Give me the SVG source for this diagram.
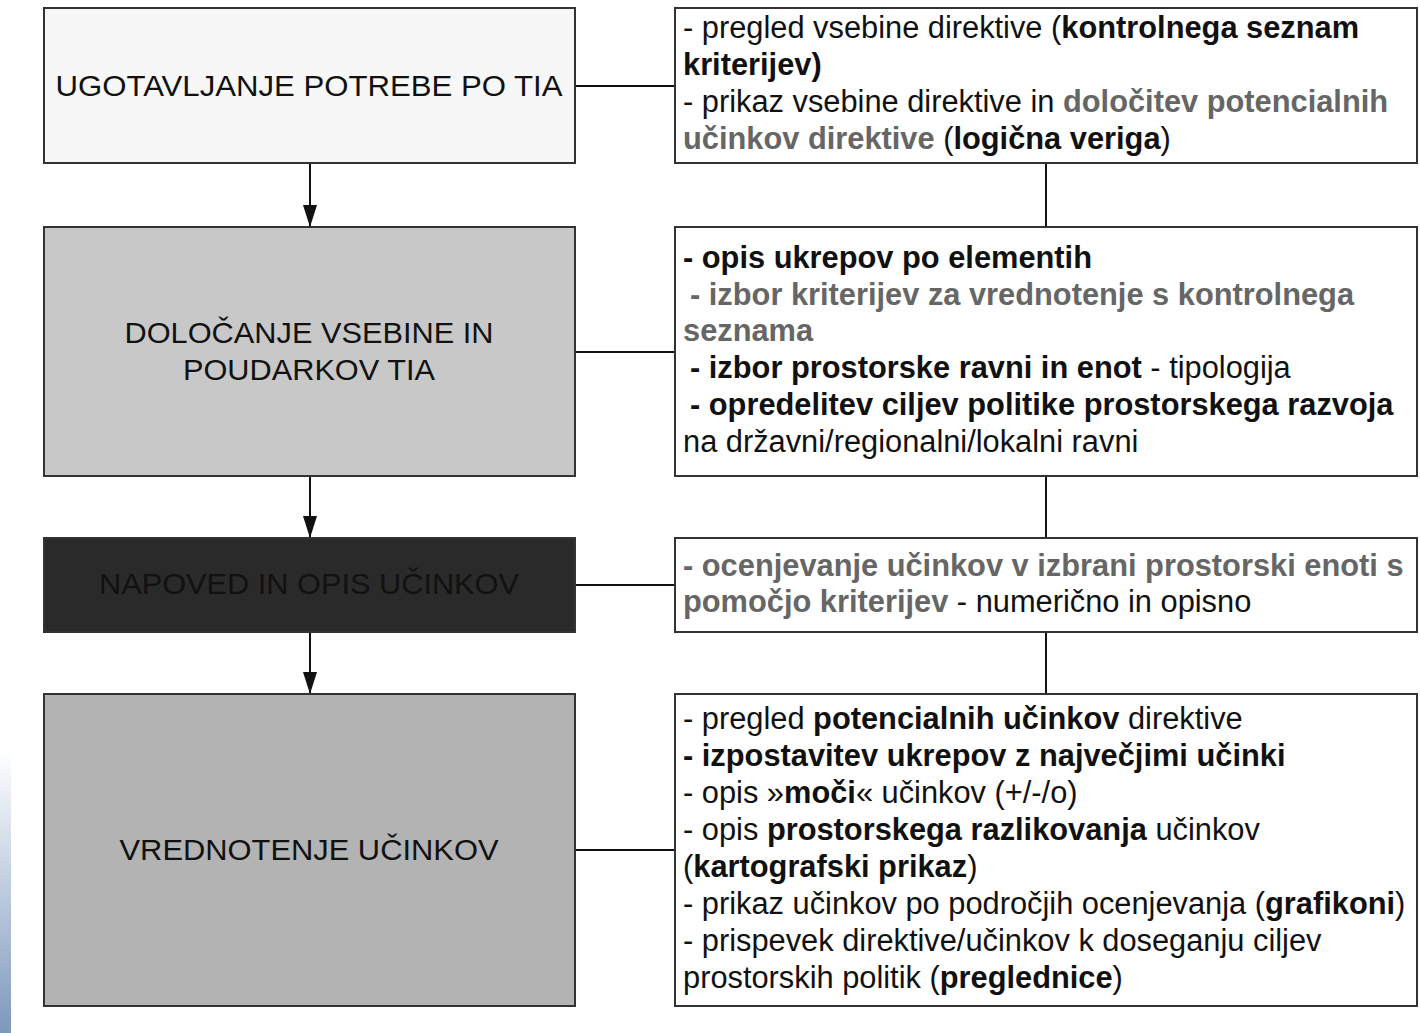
<svg xmlns="http://www.w3.org/2000/svg" width="1420" height="1033" viewBox="0 0 1420 1033">
<defs>
<linearGradient id="strip" x1="0" y1="0" x2="0" y2="1">
<stop offset="0" stop-color="#ffffff"/>
<stop offset="1" stop-color="#7d98bd"/>
</linearGradient>
<marker id="arr" markerWidth="22" markerHeight="14" refX="22" refY="7" orient="auto" markerUnits="userSpaceOnUse" viewBox="0 0 22 14">
<path d="M0,0 L22,7 L0,14 Z" fill="#111"/>
</marker>
<style>
.box{stroke:#333;stroke-width:2}
.lbl{font-family:"Liberation Sans",Arial,sans-serif;font-size:30px;fill:#111;text-anchor:middle}
.txt{font-family:"Liberation Sans",Arial,sans-serif;font-size:30.8px;fill:#111}
.b{font-weight:bold}
.g{fill:#666;font-weight:bold}
.line{stroke:#111;stroke-width:2;fill:none}
</style>
</defs>
<rect width="1420" height="1033" fill="#ffffff"/>
<rect x="0" y="750" width="11" height="283" fill="url(#strip)"/>

<g id="connectors">
<line class="line" x1="310" y1="163" x2="310" y2="227" marker-end="url(#arr)"/>
<line class="line" x1="310" y1="476" x2="310" y2="538" marker-end="url(#arr)"/>
<line class="line" x1="310" y1="632" x2="310" y2="694" marker-end="url(#arr)"/>
<line class="line" x1="575" y1="86" x2="675" y2="86"/>
<line class="line" x1="575" y1="352" x2="675" y2="352"/>
<line class="line" x1="575" y1="585" x2="675" y2="585"/>
<line class="line" x1="575" y1="850" x2="675" y2="850"/>
<line class="line" x1="1046" y1="163" x2="1046" y2="227"/>
<line class="line" x1="1046" y1="476" x2="1046" y2="538"/>
<line class="line" x1="1046" y1="632" x2="1046" y2="694"/>
</g>

<g id="n1">
<rect class="box" x="44" y="8" width="531" height="155" fill="#f7f7f7"/>
<text class="lbl" x="309" y="96" textLength="507" lengthAdjust="spacingAndGlyphs">UGOTAVLJANJE POTREBE PO TIA</text>
</g>
<g id="n2">
<rect class="box" x="44" y="227" width="531" height="249" fill="#c8c8c8"/>
<text class="lbl" x="309" y="343" textLength="369" lengthAdjust="spacingAndGlyphs">DOLOČANJE VSEBINE IN</text>
<text class="lbl" x="309" y="380" textLength="252" lengthAdjust="spacingAndGlyphs">POUDARKOV TIA</text>
</g>
<g id="n3">
<rect class="box" x="44" y="538" width="531" height="94" fill="#2a2a2a"/>
<text class="lbl" x="309" y="594" textLength="420" lengthAdjust="spacingAndGlyphs">NAPOVED IN OPIS UČINKOV</text>
</g>
<g id="n4">
<rect class="box" x="44" y="694" width="531" height="312" fill="#b3b3b3"/>
<text class="lbl" x="309" y="860" textLength="379" lengthAdjust="spacingAndGlyphs">VREDNOTENJE UČINKOV</text>
</g>

<g id="r1">
<rect class="box" x="675" y="8" width="742" height="155" fill="#ffffff"/>
<text class="txt" x="683" y="38">- pregled vsebine direktive (<tspan class="b">kontrolnega seznam</tspan></text>
<text class="txt b" x="683" y="75">kriterijev)</text>
<text class="txt" x="683" y="112">- prikaz vsebine direktive in <tspan class="g">določitev potencialnih</tspan></text>
<text class="txt" x="683" y="149"><tspan class="g">učinkov direktive</tspan> (<tspan class="b">logična veriga</tspan>)</text>
</g>
<g id="r2">
<rect class="box" x="675" y="227" width="742" height="249" fill="#ffffff"/>
<text class="txt b" x="683" y="268">- opis ukrepov po elementih</text>
<text class="txt g" x="690" y="305">- izbor kriterijev za vrednotenje s kontrolnega</text>
<text class="txt g" x="683" y="341">seznama</text>
<text class="txt" x="690" y="378"><tspan class="b">- izbor prostorske ravni in enot</tspan> - tipologija</text>
<text class="txt b" x="690" y="415">- opredelitev ciljev politike prostorskega razvoja</text>
<text class="txt" x="683" y="452">na državni/regionalni/lokalni ravni</text>
</g>
<g id="r3">
<rect class="box" x="675" y="538" width="742" height="94" fill="#ffffff"/>
<text class="txt g" x="683" y="576">- ocenjevanje učinkov v izbrani prostorski enoti s</text>
<text class="txt" x="683" y="612"><tspan class="g">pomočjo kriterijev</tspan> - numerično in opisno</text>
</g>
<g id="r4">
<rect class="box" x="675" y="694" width="742" height="312" fill="#ffffff"/>
<text class="txt" x="683" y="729">- pregled <tspan class="b">potencialnih učinkov</tspan> direktive</text>
<text class="txt b" x="683" y="766">- izpostavitev ukrepov z največjimi učinki</text>
<text class="txt" x="683" y="803">- opis »<tspan class="b">moči</tspan>« učinkov (+/-/o)</text>
<text class="txt" x="683" y="840">- opis <tspan class="b">prostorskega razlikovanja</tspan> učinkov</text>
<text class="txt" x="683" y="877">(<tspan class="b">kartografski prikaz</tspan>)</text>
<text class="txt" x="683" y="914">- prikaz učinkov po področjih ocenjevanja (<tspan class="b">grafikoni</tspan>)</text>
<text class="txt" x="683" y="951">- prispevek direktive/učinkov k doseganju ciljev</text>
<text class="txt" x="683" y="988">prostorskih politik (<tspan class="b">preglednice</tspan>)</text>
</g>
</svg>
